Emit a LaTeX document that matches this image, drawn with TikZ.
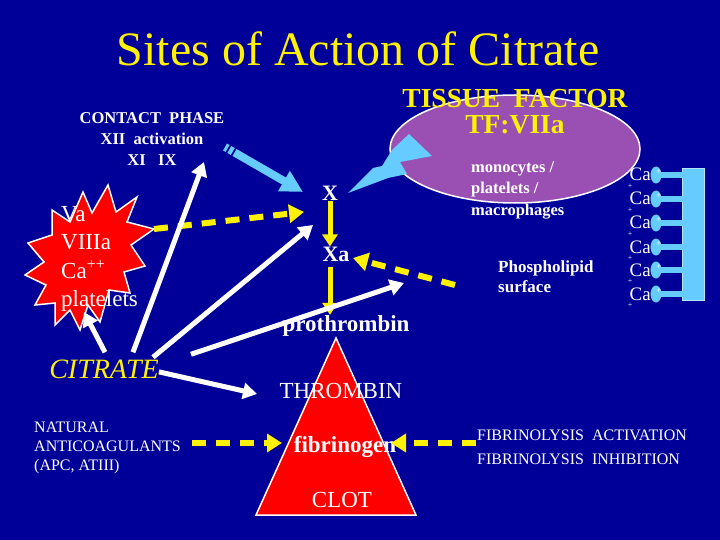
\documentclass[tikz,border=0pt]{standalone}
\usepackage{fontspec}
\setmainfont{Liberation Serif}
\usetikzlibrary{arrows.meta,shapes.geometric}

\definecolor{slide}{RGB}{0,0,153}
\definecolor{tfpurple}{RGB}{153,80,178}
\definecolor{skyblue}{RGB}{102,204,255}
\definecolor{clotred}{RGB}{255,0,0}

\tikzset{
  wtxt/.style={text=white, inner sep=0pt},
  ytxt/.style={text=yellow, inner sep=0pt},
  warr/.style={white, line width=5pt, -{Triangle[width=16pt,length=14pt]}},
  yarr/.style={yellow, line width=5pt, -{Triangle[width=15pt,length=12pt]}},
  ydash/.style={yellow, line width=6pt, dash pattern=on 14pt off 10pt, -{Triangle[width=18pt,length=15pt]}},
  redshape/.style={fill=clotred, draw=white, line width=1.5pt},
  cabar/.style={skyblue, line width=6pt},
}

\begin{document}
\begin{tikzpicture}[x=1pt, y=-1pt]
    \fill[slide] (0,0) rectangle (720,540);
    \useasboundingbox (0,0) rectangle (720,540);

    \node[ytxt, font=\fontsize{48}{48}\selectfont, anchor=base] (title) at (358,66) {Sites of Action of Citrate};

    % tissue factor
    \node[ellipse, fill=tfpurple, draw=white, line width=1.5pt, minimum width=250pt, minimum height=108pt] (tf) at (515,149) {};
    \node[ytxt, font=\bfseries\fontsize{27.5}{27.5}\selectfont, anchor=base] (tfname) at (515,108) {TISSUE~~FACTOR};
    \node[ytxt, font=\bfseries\fontsize{27.5}{27.5}\selectfont, anchor=base] (tfvii) at (515,134) {TF:VIIa};
    \node[wtxt, font=\bfseries\fontsize{16.5}{21.5}\selectfont, align=left, anchor=north west] (cells) at (471,161) {monocytes /\\platelets /\\macrophages};
    \fill[skyblue] (348,193) -- (373,168) -- (382,166) -- (392,150) -- (409,134) -- (432,156) -- (400,162) -- (407,174) -- (388,178) -- cycle;

    \node[wtxt, font=\bfseries\fontsize{16.5}{21}\selectfont, align=center, anchor=north] (contact) at (152,112) {CONTACT~~PHASE\\XII~~activation\\XI~~~IX};

    % cascade
    \filldraw[redshape] (336,338) -- (416,515) -- (256,515) -- cycle;
    \node[wtxt, font=\bfseries\fontsize{22}{22}\selectfont, anchor=base] (facX) at (330,201) {X};
    \node[wtxt, font=\bfseries\fontsize{22}{22}\selectfont, anchor=base] (facXa) at (336,261) {Xa};
    \node[wtxt, font=\bfseries\fontsize{23}{23}\selectfont, anchor=base] (pro) at (346,331) {prothrombin};
    \node[wtxt, font=\fontsize{23}{23}\selectfont, anchor=base] (thr) at (341,398) {THROMBIN};
    \node[wtxt, font=\bfseries\fontsize{23}{23}\selectfont, anchor=base] (fib) at (345,452) {fibrinogen};
    \node[wtxt, font=\fontsize{23}{23}\selectfont, anchor=base] (clot) at (342,507) {CLOT};

    % starburst
    \filldraw[redshape] (108,185) -- (116,212) -- (137,197) -- (127,222) -- (154,229) -- (131,245) -- (145,266) -- (124,272) -- (130,293) -- (109,290) -- (100,322) -- (88,305) -- (80,330) -- (70,310) -- (55,325) -- (55,303) -- (35,305) -- (46,285) -- (25,275) -- (44,262) -- (28,243) -- (52,235) -- (52,210) -- (70,222) -- (83,192) -- (92,213) -- cycle;
    \node[wtxt, font=\fontsize{23}{28.5}\selectfont, align=left, anchor=north west] (burst) at (61,206) {Va\\VIIIa\\Ca\textsuperscript{++}\\platelets};

    \node[ytxt, font=\itshape\fontsize{28}{28}\selectfont, anchor=base] (cit) at (104,378) {CITRATE};
    \node[wtxt, font=\fontsize{16}{19}\selectfont, align=left, anchor=north west] (nat) at (34,422) {NATURAL\\ANTICOAGULANTS\\(APC, ATIII)};
    \node[wtxt, font=\fontsize{16}{24}\selectfont, align=left, anchor=north west] (fibl) at (477,430) {FIBRINOLYSIS~~ACTIVATION\\FIBRINOLYSIS~~INHIBITION};
    \node[wtxt, font=\bfseries\fontsize{17}{20}\selectfont, align=left, anchor=north west] (phos) at (498,261) {Phospholipid\\surface};

    % calcium on the surface
    \filldraw[fill=skyblue, draw=white!50!skyblue, line width=0.8pt] (682,168) rectangle (704,300);
    \foreach \y [count=\i] in {175,199,223,247,270,294} {
        \draw[cabar] (658,\y) -- (683,\y);
        \node[ellipse, fill=skyblue, minimum width=11pt, minimum height=17pt, inner sep=0pt] (ball\i) at (656,\y) {};
        \node[wtxt, font=\fontsize{9}{9}\selectfont] (pos\i) at (659,\y-3) {+};
        \node[wtxt, font=\fontsize{19}{19}\selectfont, anchor=base east] (ca\i) at (651,\y+6) {Ca};
        \node[wtxt, font=\fontsize{8}{8}\selectfont] (chg\i) at (630,\y+11) {+};
    }

    % loose ends
    \coordinate (cpTail) at (225,147);
    \coordinate (xLeft) at (303,192);
    \coordinate (spike) at (154,229);
    \coordinate (xDash) at (304,212);
    \coordinate (phosIn) at (455,285);
    \coordinate (xaRight) at (353,258);
    \coordinate (natOut) at (192,443);
    \coordinate (fibL) at (282,443);
    \coordinate (fiblOut) at (476,443);
    \coordinate (fibR) at (391,443);
    \coordinate (tBurst) at (84,312);
    \coordinate (tContact) at (204,162);
    \coordinate (tX) at (313,225);
    \coordinate (tXa) at (404,283);
    \coordinate (tThr) at (257,394);

    \draw[skyblue, line width=8pt, dash pattern=on 3pt off 2pt on 4pt off 2pt on 300pt off 0pt, -{Triangle[width=22pt,length=22pt]}] (cpTail) -- (xLeft);

    \draw[yarr] (facX.south) -- (facX.south |- facXa.north);
    \draw[yarr] ([yshift=-6pt]facX.south |- facXa.south) -- (facX.south |- pro.north);
    \draw[ydash] (spike) -- (xDash);
    \draw[ydash] (phosIn) -- (xaRight);
    \draw[ydash] (natOut) -- (fibL);
    \draw[ydash] (fiblOut) -- (fibR);

    \draw[warr] ([xshift=1pt,yshift=7pt]cit.north) -- (tBurst);
    \draw[warr] ([xshift=29pt,yshift=7pt]cit.north) -- (tContact);
    \draw[warr] ([xshift=49pt,yshift=2pt]cit.north) -- (tX);
    \draw[warr] ([xshift=87pt,yshift=5pt]cit.north) -- (tXa);
    \draw[warr] ([yshift=-3pt]cit.east) -- (tThr);
\end{tikzpicture}
\end{document}
